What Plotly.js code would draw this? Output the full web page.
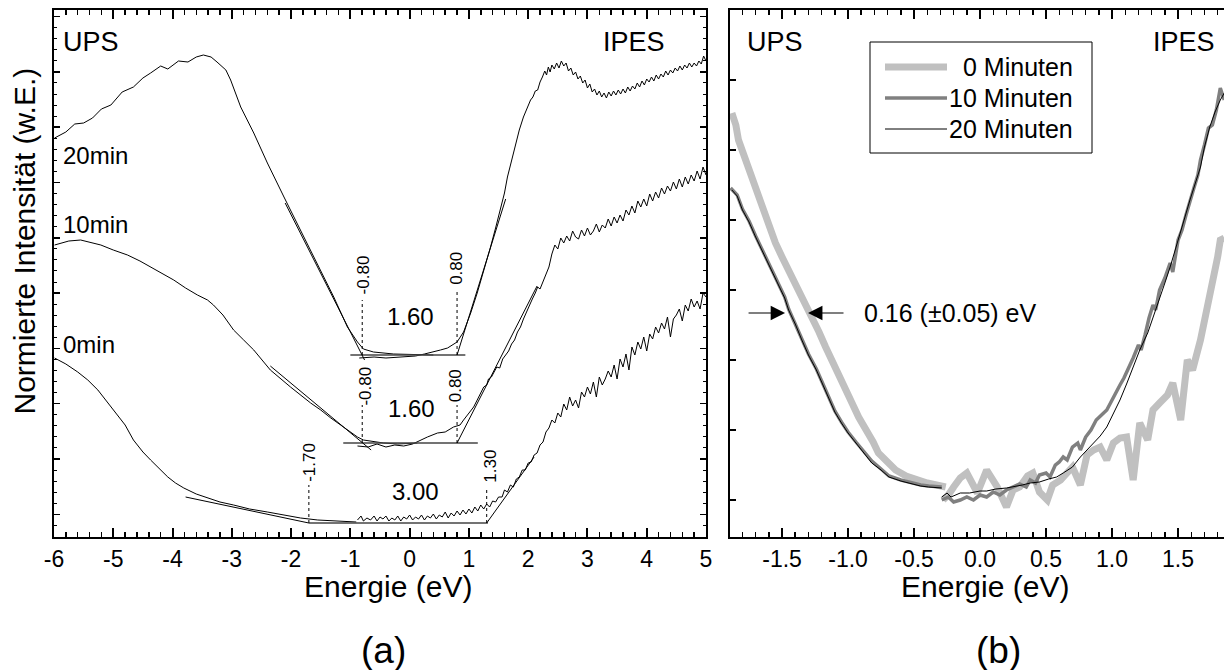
<!DOCTYPE html>
<html><head><meta charset="utf-8">
<script src="https://cdn.plot.ly/plotly-3.0.1.min.js"></script>
<style>html,body{margin:0;padding:0;background:#fff}</style>
</head><body><div id="chart" style="width:1224px;height:670px"></div>
<script>
// ---------- Panel (a): spectra (energy in eV, intensity in arbitrary units) ----------
const a20_ups_x = [-5.99,-5.8,-5.65,-5.5,-5.35,-5.2,-5.04,-4.85,-4.66,-4.5,-4.37,-4.2,-4.08,-3.9,-3.74,-3.6,-3.48,-3.35,-3.25,-3.1,-3.02,-2.85,-2.63,-2.4,-2.12,-1.84,-1.56,-1.28,-1.05,-0.88,-0.78,-0.61,-0.27,0.13,0.4];
const a20_ups_y = [399,405,413,414,419,428,432,445,450,459,464,471,468,476,475,480,482,480,475,467,457,430,404,374,340,307,274,240,210,195,188,185,183,182,182];
const a20_ipes_x = [-0.85,-0.6,-0.4,-0.2,0.1,0.25,0.4,0.52,0.64,0.72,0.8,0.91,1.03,1.14,1.24,1.36,1.45,1.53,1.6,1.65,1.72,1.78,1.85,1.92,1.98,2.04,2.08,2.12,2.16,2.2,2.24,2.28,2.31,2.34,2.37,2.4,2.44,2.48,2.52,2.56,2.6,2.64,2.68,2.72,2.76,2.8,2.84,2.88,2.92,2.96,3.0,3.04,3.08,3.12,3.16,3.2,3.24,3.28,3.32,3.36,3.4,3.44,3.48,3.52,3.56,3.6,3.64,3.68,3.72,3.76,3.8,3.84,3.88,3.92,3.96,4.0,4.04,4.08,4.12,4.16,4.2,4.24,4.28,4.32,4.36,4.4,4.44,4.48,4.52,4.56,4.6,4.64,4.68,4.72,4.76,4.8,4.84,4.88,4.92,4.96,5.0];
const a20_ipes_y = [179,180,179,180,181,183,185,187,189,192,195,205,224,244,264,289,309,327,344,360,377,390,407,420,429,437,440,446,447,455,460,466,462,470,465,472,468,474,469,476,471,474,466,469,462,465,458,461,454,457,449,453,445,448,442,446,440,444,439,445,441,446,442,447,443,448,444,450,446,451,448,454,450,456,452,458,455,460,456,462,458,463,460,466,462,467,464,469,466,471,467,472,469,474,470,474,471,476,473,481,476];

const a10_ups_x = [-5.99,-5.75,-5.55,-5.4,-5.21,-5.0,-4.76,-4.55,-4.37,-4.15,-3.98,-3.78,-3.58,-3.41,-3.31,-3.15,-2.97,-2.8,-2.63,-2.35,-2.01,-1.67,-1.5,-1.33,-1.17,-1.0,-0.88,-0.78,-0.66,-0.44,-0.2,0.13];
const a10_ups_y = [292,296,297,295,292,287,282,276,270,263,257,249,242,237,232,222,207,197,187,167,150,134,127,119,112,105,100,97,96,94,93,94];
const a10_ipes_x = [-0.88,-0.7,-0.55,-0.4,-0.25,-0.1,0.05,0.18,0.3,0.47,0.6,0.74,0.85,0.91,1.03,1.08,1.14,1.2,1.25,1.3,1.33,1.38,1.42,1.47,1.52,1.57,1.62,1.67,1.72,1.77,1.82,1.87,1.92,1.97,2.02,2.07,2.12,2.16,2.2,2.25,2.3,2.35,2.4,2.45,2.5,2.55,2.6,2.65,2.7,2.75,2.8,2.85,2.9,2.95,3.0,3.05,3.1,3.15,3.2,3.25,3.3,3.35,3.4,3.45,3.5,3.55,3.6,3.65,3.7,3.75,3.8,3.85,3.9,3.95,4.0,4.05,4.1,4.15,4.2,4.25,4.3,4.35,4.4,4.45,4.5,4.55,4.6,4.65,4.7,4.75,4.8,4.85,4.9,4.95,5.0];
const a10_ipes_y = [91,90,93,90,92,91,93,97,100,104,105,110,112,117,127,130,137,145,150,152,158,160,164,170,169,178,182,186,193,197,205,210,218,225,231,238,244,250,248,256,262,270,283,292,288,299,294,301,296,306,300,298,307,301,309,302,306,313,305,312,309,318,311,320,314,322,316,327,322,331,324,336,330,338,331,343,336,345,339,349,343,351,346,355,348,358,350,360,353,362,356,366,358,370,362];

const a0_ups_x = [-5.99,-5.8,-5.6,-5.43,-5.26,-5.1,-4.99,-4.8,-4.66,-4.5,-4.37,-4.2,-4.08,-3.95,-3.81,-3.6,-3.41,-3.2,-2.97,-2.7,-2.4,-2.1,-1.84,-1.55,-1.28,-1.0,-0.9];
const a0_ups_y = [179,173,165,157,147,135,127,112,97,85,77,67,60,54,49,43,39,35,32,28,25,22,19,17,16,15,15];
const a0_ipes_x = [-0.88,-0.82,-0.78,-0.72,-0.66,-0.6,-0.55,-0.5,-0.45,-0.4,-0.35,-0.3,-0.25,-0.2,-0.15,-0.1,-0.05,0.0,0.05,0.1,0.15,0.2,0.25,0.3,0.35,0.4,0.45,0.5,0.55,0.6,0.65,0.7,0.75,0.8,0.85,0.9,0.95,1.0,1.05,1.1,1.15,1.2,1.25,1.3,1.35,1.4,1.45,1.5,1.56,1.6,1.65,1.7,1.75,1.8,1.85,1.9,1.95,2.0,2.05,2.1,2.15,2.2,2.25,2.3,2.35,2.4,2.45,2.5,2.55,2.6,2.65,2.7,2.75,2.8,2.85,2.9,2.95,3.0,3.05,3.1,3.15,3.2,3.25,3.3,3.35,3.4,3.45,3.5,3.55,3.6,3.65,3.7,3.75,3.8,3.85,3.9,3.95,4.0,4.05,4.1,4.15,4.2,4.25,4.3,4.35,4.4,4.45,4.5,4.55,4.6,4.65,4.7,4.75,4.8,4.85,4.9,4.95,5.0];
const a0_ipes_y = [17,21,16,19,17,21,16,20,18,21,16,19,17,21,16,20,18,22,17,20,18,22,17,21,19,23,18,22,20,25,19,24,21,26,22,27,23,28,24,30,26,32,28,33,30,36,35,40,40,47,45,52,50,58,60,67,67,74,75,82,84,92,95,105,109,117,114,124,120,133,127,140,131,137,129,145,140,150,143,155,140,160,152,158,166,160,172,158,178,170,183,167,190,182,195,188,200,186,203,198,210,204,214,208,220,200,218,222,228,216,232,226,238,230,236,228,244,240];

// linear onset fits and baselines (endpoints)
const fit20_ups_x = [-2.10,-0.76], fit20_ups_y = [334,177];
const fit20_ipes_x = [0.80,1.62],  fit20_ipes_y = [182,338];
const base20_x = [-1.00,0.94],     base20_y = [182,182];
const fit10_ups_x = [-2.35,-0.65], fit10_ups_y = [171,87];
const fit10_ipes_x = [0.80,2.15],  fit10_ipes_y = [94,251];
const base10_x = [-1.12,1.15],     base10_y = [94,94];
const fit0_ups_x = [-3.78,-1.70],  fit0_ups_y = [40,14];
const fit0_ipes_x = [1.30,2.10],   fit0_ipes_y = [14,80];
const base0_x = [-1.70,1.32],      base0_y = [14,14];

// onset values (eV) and gaps
const onset20 = [-0.80, 0.80], gap20 = "1.60";
const onset10 = [-0.80, 0.80], gap10 = "1.60";
const onset0  = [-1.70, 1.30], gap0  = "3.00";

// ---------- Panel (b): zoom near the gap ----------
const b20_ups_x = [-1.88,-1.84,-1.80,-1.75,-1.70,-1.66,-1.62,-1.57,-1.52,-1.48,-1.45,-1.40,-1.35,-1.30,-1.24,-1.19,-1.14,-1.10,-1.05,-1.0,-0.94,-0.88,-0.82,-0.75,-0.69,-0.6,-0.54,-0.45,-0.39,-0.29];
const b20_ups_y = [347,341,327,315,300,289,277,263,250,239,227,213,197,182,167,152,137,125,114,104,94,84,74,67,60,56,54,51,50,49];
const b10_ups_x = [-1.89,-1.84,-1.80,-1.75,-1.70,-1.66,-1.62,-1.57,-1.52,-1.48,-1.45,-1.40,-1.35,-1.30,-1.24,-1.19,-1.14,-1.10,-1.05,-1.0,-0.94,-0.88,-0.82,-0.75,-0.69,-0.6,-0.54,-0.45,-0.39,-0.29];
const b10_ups_y = [349,342,328,316,301,290,278,264,251,240,228,214,198,183,168,153,138,126,115,105,95,85,76,68,61,57,55,52,51,50];
const b0_ups_x = [-1.88,-1.85,-1.83,-1.79,-1.75,-1.70,-1.65,-1.60,-1.55,-1.50,-1.45,-1.40,-1.35,-1.31,-1.27,-1.22,-1.17,-1.12,-1.07,-1.02,-0.97,-0.92,-0.86,-0.81,-0.77,-0.70,-0.64,-0.56,-0.48,-0.40,-0.33,-0.26];
const b0_ups_y = [424,412,397,382,365,347,329,312,294,280,267,254,242,231,220,205,190,175,160,147,134,120,107,95,84,74,67,61,57,54,52,50];

const b20_ipes_x = [-0.29,-0.25,-0.22,-0.15,-0.08,0.0,0.05,0.12,0.2,0.25,0.32,0.38,0.45,0.52,0.58,0.63,0.67,0.70,0.76,0.81,0.86,0.91,0.96,1.01,1.06,1.11,1.16,1.21,1.27,1.31,1.36,1.40,1.44,1.48,1.52,1.55,1.59,1.63,1.67,1.70,1.74,1.78,1.82,1.85];
const b20_ipes_y = [40,44,40,44,44,46,46,48,49,50,52,54,55,58,60,64,67,70,80,87,94,101,110,124,137,153,170,187,204,219,237,254,270,287,304,319,337,354,370,390,410,425,437,444];
const b10_ipes_x = [-0.29,-0.24,-0.2,-0.15,-0.1,-0.05,0.0,0.05,0.1,0.15,0.2,0.25,0.3,0.35,0.38,0.42,0.45,0.5,0.53,0.57,0.6,0.63,0.66,0.70,0.74,0.76,0.8,0.84,0.88,0.92,0.96,1.0,1.03,1.06,1.09,1.12,1.16,1.2,1.22,1.25,1.28,1.31,1.33,1.36,1.40,1.44,1.46,1.50,1.53,1.56,1.59,1.62,1.65,1.67,1.70,1.73,1.76,1.79,1.82,1.85];
const b10_ipes_y = [37,40,35,37,40,37,42,40,45,42,47,50,53,50,57,54,62,64,60,72,75,80,77,90,94,87,100,107,117,122,127,137,145,152,159,167,179,192,187,202,219,232,227,247,259,274,265,297,307,322,337,349,362,377,392,409,412,427,449,437];
const b0_ipes_x = [-0.28,-0.24,-0.20,-0.15,-0.10,-0.02,0.05,0.13,0.20,0.25,0.30,0.36,0.40,0.45,0.51,0.55,0.61,0.66,0.70,0.76,0.81,0.86,0.91,0.96,1.01,1.06,1.11,1.16,1.21,1.27,1.31,1.36,1.42,1.46,1.52,1.57,1.61,1.67,1.72,1.77,1.80,1.82,1.85];
const b0_ipes_y = [37,42,50,59,64,44,67,50,30,47,50,61,64,45,37,52,57,65,70,52,82,87,90,77,94,99,100,57,114,97,127,134,142,154,117,177,167,197,227,257,280,297,299];

const shiftValue = "0.16 (\u00b10.05) eV";
const seriesNames = ["0 Minuten", "10 Minuten", "20 Minuten"];
const seriesColors = ["#c0c0c0", "#808080", "#000000"];
const seriesWidths = [7, 3.5, 1];

// tick labels
const xaTickVals = [-6,-5,-4,-3,-2,-1,0,1,2,3,4,5];
const xaTickText = ["-6","-5","-4","-3","-2","-1","0","1","2","3","4","5"];
const xbTickVals = [-1.5,-1.0,-0.5,0.0,0.5,1.0,1.5];
const xbTickText = ["-1.5","-1.0","-0.5","0.0","0.5","1.0","1.5"];

// ---------- build ----------
const FONT = "Liberation Sans, Arial, Helvetica, sans-serif";
function ln(x, y, xa, ya, color, width, dash, name) {
  return {x: x, y: y, xaxis: xa, yaxis: ya, type: 'scatter', mode: 'lines', name: name || '',
    showlegend: false, hoverinfo: 'skip',
    line: {color: color, width: width, dash: dash || 'solid', shape: 'linear'}};
}
const traces = [];
// panel a spectra
[[a20_ups_x,a20_ups_y],[a20_ipes_x,a20_ipes_y],[a10_ups_x,a10_ups_y],[a10_ipes_x,a10_ipes_y],[a0_ups_x,a0_ups_y],[a0_ipes_x,a0_ipes_y]]
  .forEach(p => traces.push(ln(p[0], p[1], 'x', 'y', '#000', 1)));
// baselines & fits
[[base20_x,base20_y],[base10_x,base10_y],[base0_x,base0_y]].forEach(p => traces.push(ln(p[0], p[1], 'x', 'y', '#444', 1.4)));
[[fit20_ups_x,fit20_ups_y],[fit20_ipes_x,fit20_ipes_y],[fit10_ups_x,fit10_ups_y],[fit10_ipes_x,fit10_ipes_y],[fit0_ups_x,fit0_ups_y],[fit0_ipes_x,fit0_ipes_y]]
  .forEach(p => traces.push(ln(p[0], p[1], 'x', 'y', '#000', 1)));
// dotted drop lines at the onsets
const drops = [[onset20, base20_y[0], 237, 247], [onset10, base10_y[0], 132, 132], [onset0, base0_y[0], 52, 50]];
drops.forEach(d => {
  traces.push(ln([d[0][0], d[0][0]], [d[1], d[2]], 'x', 'y', '#000', 1, 'dot'));
  traces.push(ln([d[0][1], d[0][1]], [d[1], d[3]], 'x', 'y', '#000', 1, 'dot'));
});
// panel b
const bU = [[b0_ups_x,b0_ups_y],[b10_ups_x,b10_ups_y],[b20_ups_x,b20_ups_y]];
const bI = [[b0_ipes_x,b0_ipes_y],[b10_ipes_x,b10_ipes_y],[b20_ipes_x,b20_ipes_y]];
for (let i = 0; i < 3; i++) {
  traces.push(ln(bU[i][0], bU[i][1], 'x2', 'y2', seriesColors[i], seriesWidths[i], 'solid', seriesNames[i]));
  traces.push(ln(bI[i][0], bI[i][1], 'x2', 'y2', seriesColors[i], seriesWidths[i], 'solid', seriesNames[i]));
}

const axCommon = {showline: true, linewidth: 2, linecolor: '#000', ticks: 'inside', tickcolor: '#000',
  showgrid: false, zeroline: false, fixedrange: true, automargin: false};
const W = 1224, H = 670;
const px = v => v / W, py = v => 1 - v / H;

const ann = [];
function txt(x, y, xr, yr, t, size, xanchor, angle) {
  ann.push({x: x, y: y, xref: xr, yref: yr, text: t, showarrow: false, xanchor: xanchor || 'center',
    yanchor: 'middle', textangle: angle || 0, font: {family: FONT, size: size, color: '#000'}});
}
// panel a labels
txt(-5.89, 495, 'x', 'y', 'UPS', 27, 'left');
txt(4.35, 495, 'x', 'y', 'IPES', 27, 'right');
txt(-5.89, 382, 'x', 'y', '20min', 24, 'left');
txt(-5.89, 313, 'x', 'y', '10min', 24, 'left');
txt(-5.89, 193, 'x', 'y', '0min', 24, 'left');
txt(onset20[0] + 0.02, 262, 'x', 'y', onset20[0].toFixed(2), 17, 'center', -90);
txt(onset20[1] - 0.02, 269, 'x', 'y', onset20[1].toFixed(2), 17, 'center', -90);
txt(0.02, 221, 'x', 'y', gap20, 24);
txt(onset10[0] + 0.04, 151, 'x', 'y', onset10[0].toFixed(2), 17, 'center', -90);
txt(onset10[1] - 0.03, 151, 'x', 'y', onset10[1].toFixed(2), 17, 'center', -90);
txt(0.03, 129, 'x', 'y', gap10, 24);
txt(onset0[0], 75, 'x', 'y', onset0[0].toFixed(2), 17, 'center', -90);
txt(onset0[1] + 0.05, 71, 'x', 'y', onset0[1].toFixed(2), 17, 'center', -90);
txt(0.10, 46, 'x', 'y', gap0, 24);
// panel b labels
txt(-1.78, 495, 'x2', 'y2', 'UPS', 27, 'left');
txt(1.795, 495, 'x2', 'y2', 'IPES', 27, 'right');
txt(-0.894, 224, 'x2', 'y2', shiftValue, 25, 'left');
ann.push({x: -1.477, y: 224, ax: -1.765, ay: 224, xref: 'x2', yref: 'y2', axref: 'x2', ayref: 'y2', text: '',
  showarrow: true, arrowhead: 2, arrowsize: 2.4, arrowwidth: 1.2, arrowcolor: '#000', standoff: 0, startstandoff: 0});
ann.push({x: -1.303, y: 224, ax: -1.023, ay: 224, xref: 'x2', yref: 'y2', axref: 'x2', ayref: 'y2', text: '',
  showarrow: true, arrowhead: 2, arrowsize: 2.4, arrowwidth: 1.2, arrowcolor: '#000', standoff: 0, startstandoff: 0});
// titles
txt(px(388), py(586), 'paper', 'paper', 'Energie (eV)', 30);
txt(px(985), py(586), 'paper', 'paper', 'Energie (eV)', 30);
txt(px(23.5), py(241), 'paper', 'paper', 'Normierte Intensit\u00e4t (w.E.)', 30, 'center', -90);
txt(px(383), py(650), 'paper', 'paper', '(a)', 37);
txt(px(998), py(650), 'paper', 'paper', '(b)', 37);
// custom legend (right-aligned labels as in the original)
const shapes = [{type: 'rect', xref: 'paper', yref: 'paper', x0: px(870), x1: px(1092), y0: py(153), y1: py(42),
  line: {color: '#000', width: 1}, fillcolor: 'rgba(255,255,255,0)'}];
const legY = [67, 98, 129];
for (let i = 0; i < 3; i++) {
  shapes.push({type: 'line', xref: 'paper', yref: 'paper', x0: px(885), x1: px(947), y0: py(legY[i]), y1: py(legY[i]),
    line: {color: seriesColors[i], width: seriesWidths[i]}});
  txt(px(1075), py(legY[i]), 'paper', 'paper', seriesNames[i], 25, 'right');
}

const layout = {
  width: W, height: H, margin: {l: 0, r: 0, t: 0, b: 0}, paper_bgcolor: '#fff', plot_bgcolor: 'rgba(0,0,0,0)',
  showlegend: false, font: {family: FONT, color: '#000'},
  xaxis: Object.assign({}, axCommon, {domain: [54/W, 706/W], range: [-6, 5], anchor: 'y', mirror: 'allticks',
    ticklen: 9, tickwidth: 2, tickmode: 'array', tickvals: xaTickVals, ticktext: xaTickText,
    tickfont: {family: FONT, size: 23, color: '#000'},
    minor: {ticks: 'inside', ticklen: 5, tickwidth: 1.5, tickcolor: '#000', tick0: -6, dtick: 0.2}}),
  yaxis: Object.assign({}, axCommon, {domain: [133/H, 660/H], range: [0, 527], anchor: 'x', mirror: 'allticks',
    ticklen: 6, tickwidth: 1.5, tick0: 22.7, dtick: 55.3, showticklabels: false,
    minor: {ticks: 'inside', ticklen: 3, tickwidth: 1, tickcolor: '#000', tick0: 22.7, dtick: 11.06}}),
  xaxis2: Object.assign({}, axCommon, {domain: [729.5/W, 1], range: [-1.898, 1.848], anchor: 'y2', mirror: 'allticks',
    ticklen: 9, tickwidth: 2, tickmode: 'array', tickvals: xbTickVals, ticktext: xbTickText,
    tickfont: {family: FONT, size: 23, color: '#000'},
    minor: {ticks: 'inside', ticklen: 5, tickwidth: 1.5, tickcolor: '#000', tick0: -2, dtick: 0.1}}),
  yaxis2: Object.assign({}, axCommon, {domain: [133/H, 660/H], range: [0, 527], anchor: 'x2', mirror: false,
    ticklen: 6, tickwidth: 1.5, tick0: 37, dtick: 70, showticklabels: false}),
  annotations: ann, shapes: shapes
};
Plotly.newPlot('chart', traces, layout, {staticPlot: true, displayModeBar: false});
</script></body></html>
